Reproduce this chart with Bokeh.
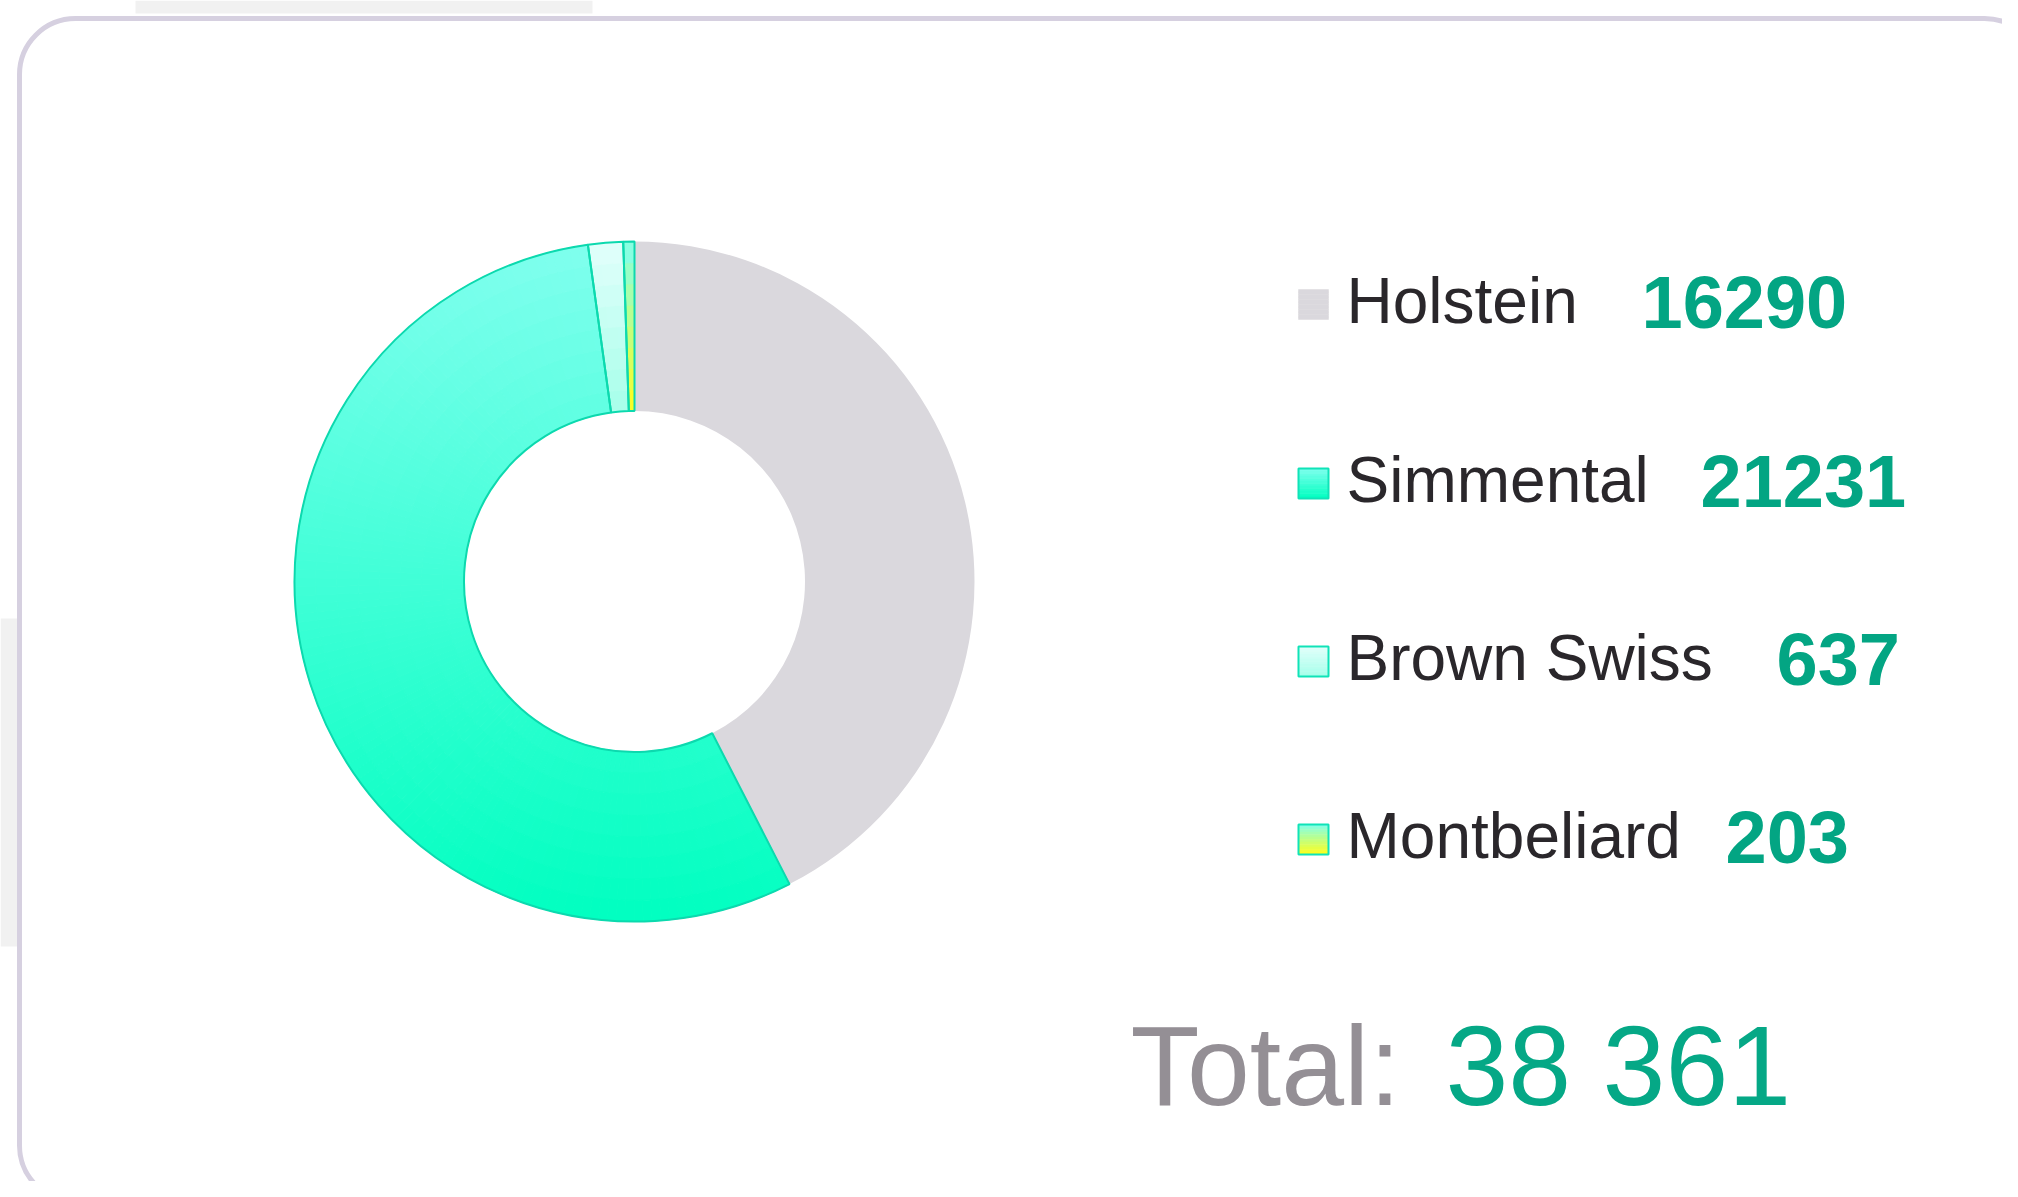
import numpy as np
from bokeh.plotting import figure
from bokeh.models import Range1d, BoxAnnotation
from bokeh.core.properties import value
from bokeh.embed import file_html
from bokeh.resources import INLINE

# ---------------- data ----------------
breeds = ["Holstein", "Simmental", "Brown Swiss", "Montbeliard"]
counts = [16290, 21231, 637, 203]
total_title = "Total:"

# ---------------- styles ----------------
top_colors = ["#dad8dd", "#80ffee", "#e2fffb", "#80ffee"]
bottom_colors = ["#dad8dd", "#00ffc0", "#a6ffea", "#ffff1a"]
has_outline = [False, True, True, True]
OUTLINE = "#0cd9ae"
FONT = value("Liberation Sans")
BASE_SHIFT = 0.4  # fraction of the font size (alphabetic baseline correction)

W, H = 2002, 1181
PAGE_H = 1197


def py(y):
    return PAGE_H - y


def ty(baseline, size):
    return py(baseline) + BASE_SHIFT * size


def hex2rgb(h):
    h = h.lstrip("#")
    return np.array([int(h[i:i + 2], 16) for i in (0, 2, 4)], dtype=float)


def lerp(c0, c1, t):
    a, b = hex2rgb(c0), hex2rgb(c1)
    c = a + (b - a) * min(max(t, 0.0), 1.0)
    return "#%02x%02x%02x" % tuple(int(round(v)) for v in c)


p = figure(width=W, height=H, x_range=Range1d(0, W), y_range=Range1d(PAGE_H - H, PAGE_H),
           output_backend="svg", toolbar_location=None, x_axis_location=None, y_axis_location=None,
           min_border=0, outline_line_color=None, background_fill_color="white", border_fill_color="white")
p.grid.visible = False

# faint grey remnants at the edges of the picture
p.quad(left=[0, 135], right=[18, 592], top=[py(618), py(0)], bottom=[py(946), py(13)],
       fill_color="#f1f1f1", line_color=None)

# rounded frame
p.add_layout(BoxAnnotation(left=19, right=2040, top=py(18), bottom=py(1201), border_radius=56,
                           fill_color=None, line_color="#d6d0e0", line_alpha=1.0, line_width=5))

# ---------------- donut ----------------
cx, cy = 634, py(581)
r_out, r_in = 340, 170.5
vals = np.array(counts, dtype=float)
frac = vals / vals.sum()
cum = np.concatenate([[0], np.cumsum(frac)])
starts = np.pi / 2 - 2 * np.pi * cum[:-1]
ends = np.pi / 2 - 2 * np.pi * cum[1:]

for i in range(len(counts)):
    s, e = starts[i], ends[i]
    if top_colors[i] == bottom_colors[i]:
        p.annular_wedge(x=cx, y=cy, inner_radius=r_in, outer_radius=r_out, start_angle=s, end_angle=e,
                        direction="clock", fill_color=top_colors[i], line_color=None)
    else:
        th = np.linspace(e, s, 400)
        ys = np.concatenate([cy + r_out * np.sin(th), cy + r_in * np.sin(th)])
        ymax, ymin = ys.max(), ys.min()
        span = s - e
        n_ang = max(3, int(np.degrees(span) / 1.5))
        n_rad = 8
        A0, A1, R0, R1, C = [], [], [], [], []
        for a in range(n_ang):
            a0 = s - span * a / n_ang
            a1 = s - span * (a + 1) / n_ang
            am = (a0 + a1) / 2
            for r in range(n_rad):
                r0 = r_in + (r_out - r_in) * r / n_rad
                r1 = r_in + (r_out - r_in) * (r + 1) / n_rad
                rm = (r0 + r1) / 2
                yc = cy + rm * np.sin(am)
                t = (ymax - yc) / (ymax - ymin)
                A0.append(a0); A1.append(a1); R0.append(r0); R1.append(r1)
                C.append(lerp(top_colors[i], bottom_colors[i], t))
        p.annular_wedge(x=cx, y=cy, inner_radius=R0, outer_radius=R1, start_angle=A0, end_angle=A1,
                        direction="clock", fill_color=C, line_color=C, line_width=1)
for i in range(len(counts)):
    if has_outline[i]:
        p.annular_wedge(x=cx, y=cy, inner_radius=r_in, outer_radius=r_out, start_angle=starts[i],
                        end_angle=ends[i], direction="clock", fill_color=None,
                        line_color=OUTLINE, line_width=2)

# ---------------- legend ----------------
label_x = 1346
baselines = [326, 505, 683, 861]
num_x = [1641, 1700, 1776, 1725]
sw_left, sw_size = 1298, 30
for i, b in enumerate(baselines):
    top = b - 37
    n = 12
    tops = [py(top + sw_size * k / n) for k in range(n)]
    bots = [py(top + sw_size * (k + 1) / n) for k in range(n)]
    cols = [lerp(top_colors[i], bottom_colors[i], (k + 0.5) / n) for k in range(n)]
    p.quad(left=sw_left, right=sw_left + sw_size, top=tops, bottom=bots, fill_color=cols, line_color=cols,
           line_width=0.5)
    if has_outline[i]:
        p.quad(left=sw_left, right=sw_left + sw_size, top=py(top), bottom=py(top + sw_size),
               fill_color=None, line_color="#10e3b8", line_width=2)

LBL, NUM, TOT = 64, 74, 113
p.text(x=[label_x] * 4, y=[ty(b, LBL) for b in baselines], text=breeds, text_font=FONT,
       text_font_size=f"{LBL}px", text_color="#2a272b", text_baseline="alphabetic", text_align="left")
p.text(x=num_x, y=[ty(b + 5, NUM) for b in baselines], text=[str(c) for c in counts], text_font=FONT,
       text_font_size=f"{NUM}px", text_font_style="bold", text_color="#03a583",
       text_baseline="alphabetic", text_align="left")

total_str = f"{int(vals.sum()):,}".replace(",", " ")
p.text(x=[1130], y=[ty(1111, TOT)], text=[total_title], text_font=FONT, text_font_size=f"{TOT}px",
       text_color="#948f95", text_baseline="alphabetic", text_align="left")
p.text(x=[1445], y=[ty(1111, TOT)], text=[total_str], text_font=FONT, text_font_size=f"{TOT}px",
       text_color="#05a886", text_baseline="alphabetic", text_align="left")

open("out.html", "w").write(file_html(p, INLINE))
